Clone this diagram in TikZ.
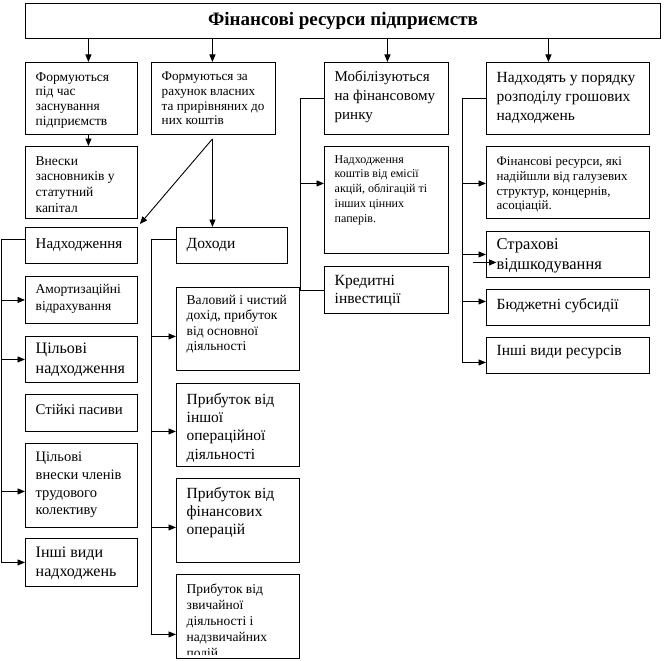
\documentclass[tikz,border=0pt]{standalone}
\usepackage{fontspec}
\setmainfont{Liberation Serif}
\usetikzlibrary{arrows.meta,calc}
\tikzset{
  boxst/.style={draw, line width=0.9pt, inner sep=0pt, anchor=north west, rectangle},
  txt/.style={inner sep=0pt, anchor=north west, align=left},
  conn/.style={line width=0.9pt},
  arr/.style={conn, -{Triangle[length=7.5pt,width=6pt]}},
}
\newcommand{\bx}[9]{%
  \node[boxst, minimum width={(#4-#2)*1pt}, minimum height={(#5-#3)*1pt}] (#1) at (#2,#3) {};
  \node[txt, font=\fontsize{#6}{#7}\selectfont] (#1t) at ([xshift=10.5pt,yshift=-#8pt]#1.north west) {#9};
}
\begin{document}
\begin{tikzpicture}[x=1pt,y=-1pt]
\useasboundingbox (0,0) rectangle (664,661);
\node[boxst, minimum width=635pt, minimum height=35pt, font=\bfseries\fontsize{19}{22}\selectfont] (title) at (25,3) {Фінансові ресурси підприємств};
% row 1
\bx{A}{25}{62}{137}{134}{13.5}{14.7}{10}{Формуються\\під час\\заснування\\підприємств}
\bx{B}{151}{62}{275}{134}{13.2}{14.7}{10}{Формуються за\\рахунок власних\\та прирівняних до\\них коштів}
\bx{M}{324}{62}{448}{134}{15}{19}{9}{Мобілізуються\\на фінансовому\\ринку}
\bx{N}{486}{62}{649}{134}{15.5}{19}{10}{Надходять у порядку\\розподілу грошових\\надходжень}
% row 2
\bx{V}{25}{146}{137}{218}{13.5}{15.7}{10}{Внески\\засновників у\\статутний\\капітал}
\bx{NK}{324}{146}{448}{253}{12}{14.8}{9}{Надходження\\коштів від емісії\\акцій, облігацій ті\\інших цінних\\паперів.}
\bx{F}{486}{146}{649}{218}{13}{14.7}{11}{Фінансові ресурси, які\\надійшли від галузевих\\структур, концернів,\\асоціацій.}
% left column
\bx{Nh}{25}{227}{137}{263}{15}{18}{11}{Надходження}
\bx{Am}{25}{276}{137}{323}{13.5}{16.7}{8}{Амортизаційні\\відрахування}
\bx{Cn}{25}{336}{137}{382}{16}{20}{7}{Цільові\\надходження}
\bx{St}{25}{394}{137}{431}{14.8}{18}{10}{Стійкі пасиви}
\bx{Cv}{25}{443}{137}{527}{14.5}{17.6}{9}{Цільові\\внески членів\\трудового\\колективу}
\bx{In}{25}{538}{137}{586}{16}{19}{9}{Інші види\\надходжень}
% middle column
\bx{Doh}{176}{227}{287}{263}{15.5}{18}{11}{Доходи}
\bx{Val}{176}{287}{299}{370}{13.5}{15.5}{8}{Валовий і чистий\\дохід, прибуток\\від основної\\діяльності}
\bx{Ip}{176}{383}{299}{466}{15.5}{18.3}{10}{Прибуток від\\іншої\\операційної\\діяльності}
\bx{Fp}{176}{478}{299}{562}{15.5}{18.3}{9}{Прибуток від\\фінансових\\операцій}
\node[boxst, minimum width=123pt, minimum height=84pt] (Zp) at (176,574) {};
\begin{scope}
\clip (170,570) rectangle (305,654.5);
\node[txt, font=\fontsize{13.5}{15.8}\selectfont] (Zpt) at ([xshift=10.5pt,yshift=-10pt]Zp.north west) {Прибуток від\\звичайної\\діяльності і\\надзвичайних\\подій};
\end{scope}
% right-middle column
\bx{K}{324}{266}{448}{313}{15.5}{18.3}{9}{Кредитні\\інвестиції}
% right column
\bx{S}{486}{231}{649}{277}{16.5}{20}{7}{Страхові\\відшкодування}
\bx{Bu}{486}{289}{649}{325}{15.5}{18}{9}{Бюджетні субсидії}
\bx{Ir}{486}{337}{649}{373}{15.5}{18}{8}{Інші види ресурсів}
% top arrows
\coordinate (ta) at ($(A.north)+(7,0)$);
\coordinate (tb) at ($(B.north)+(-1,0)$);
\coordinate (tm) at ($(M.north)+(1,0)$);
\coordinate (tn) at ($(N.north)+(-19.5,0)$);
\draw[arr] (ta |- title.south) -- (ta);
\draw[arr] (tb |- title.south) -- (tb);
\draw[arr] (tm |- title.south) -- (tm);
\draw[arr] (tn |- title.south) -- (tn);
\draw[arr] (ta |- A.south) -- (ta |- V.north);
% from B
\coordinate (bs) at ($(B.south)+(-1,4)$);
\draw[arr] (bs) -- ($(Nh.north east)+(2,-3)$);
\draw[arr] (bs) -- (bs |- Doh.north);
% left spine
\draw[arr] ($(Nh.west)+(0,-6)$) -- ++(-24,0) |- (In.west);
\draw[arr] ($(Am.west)+(-24,0)$) -- (Am.west);
\draw[arr] ($(Cn.west)+(-24,0)$) -- (Cn.west);
\draw[arr] ($(St.west)+(-24,7)$) -- ($(St.west)+(0,7)$);
\draw[arr] ($(Cv.west)+(-24,6)$) -- ($(Cv.west)+(0,6)$);
% middle spine
\draw[arr] ($(Doh.west)+(0,-6)$) -- ++(-25,0) |- ($(Zp.west)+(0,18)$);
\draw[arr] ($(Val.west)+(-25,7.5)$) -- ($(Val.west)+(0,7.5)$);
\draw[arr] ($(Ip.west)+(-25,6.5)$) -- ($(Ip.west)+(0,6.5)$);
\draw[arr] ($(Fp.west)+(-25,7)$) -- ($(Fp.west)+(0,7)$);
% right-middle spine
\draw[conn] (M.west) -| ($(K.west)+(-24,0)$) -- (K.west);
\draw[arr] ($(NK.west)+(-24,-16.5)$) -- ($(NK.west)+(0,-16.5)$);
% right spine
\draw[arr] (N.west) -| ($(Ir.west)+(-24,7)$) -- ($(Ir.west)+(0,7)$);
\draw[arr] ($(F.west)+(-24,1)$) -- ($(F.west)+(0,1)$);
\draw[arr] ($(S.west)+(-24,0)$) -- (S.west);
\draw[arr] ($(Bu.west)+(-24,-6)$) -- ($(Bu.west)+(0,-6)$);
\end{tikzpicture}
\end{document}
